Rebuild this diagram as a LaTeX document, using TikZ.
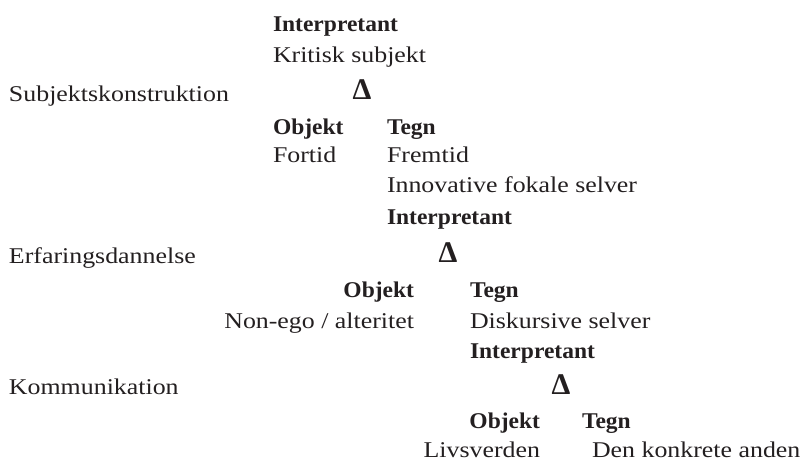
\documentclass[tikz,border=0pt]{standalone}
\usepackage{fontspec}
\setmainfont{Liberation Serif}
\newfontfamily\regfont[FakeStretch=1.15]{Liberation Serif}
\newfontfamily\hdfont[FakeStretch=1.045]{Liberation Serif Bold}
\definecolor{ink}{HTML}{231F20}
\tikzset{
  lbl/.style={inner sep=0pt, outer sep=0pt, text=ink, font=\regfont\fontsize{22.5}{26}\selectfont},
  hd/.style={lbl, font=\hdfont\fontsize{22.5}{26}\selectfont},
  tri/.style={inner sep=0pt, outer sep=0pt, text=ink, font=\fontsize{30}{34}\selectfont\bfseries, anchor=base}
}
\begin{document}
\begin{tikzpicture}[x=1pt, y=-1pt]
\useasboundingbox (0,0) rectangle (802,462);
% level 1
\node[hd, anchor=base west] (i1) at (273,32) {Interpretant};
\node[lbl, anchor=base west] (k1) at (273,63) {Kritisk subjekt};
\node[tri] (d1) at (362,100) {Δ};
\node[lbl, anchor=base west] (s1) at (9,102) {Subjektskonstruktion};
\node[hd, anchor=base west] (o1) at (273,135) {Objekt};
\node[hd, anchor=base west] (t1) at (387,135) {Tegn};
\node[lbl, anchor=base west] (f1) at (273,163) {Fortid};
\node[lbl, anchor=base west] (f2) at (387,163) {Fremtid};
\node[lbl, anchor=base west] (n1) at (387,193) {Innovative fokale selver};
% level 2
\node[hd, anchor=base west] (i2) at (387,225) {Interpretant};
\node[tri] (d2) at (448,262) {Δ};
\node[lbl, anchor=base west] (s2) at (9,263) {Erfaringsdannelse};
\node[hd, anchor=base east] (o2) at (414,297) {Objekt};
\node[hd, anchor=base west] (t2) at (470,297) {Tegn};
\node[lbl, anchor=base east] (n2) at (414,328) {Non-ego / alteritet};
\node[lbl, anchor=base west] (ds) at (470,328) {Diskursive selver};
% level 3
\node[hd, anchor=base west] (i3) at (470,358) {Interpretant};
\node[tri] (d3) at (561,394) {Δ};
\node[lbl, anchor=base west] (s3) at (9,394) {Kommunikation};
\node[hd, anchor=base east] (o3) at (540,428) {Objekt};
\node[hd, anchor=base west] (t3) at (582,428) {Tegn};
\node[lbl, anchor=base east] (lv) at (540,457) {Livsverden};
\node[lbl, anchor=base west] (dk) at (592,457) {Den konkrete anden};
\end{tikzpicture}
\end{document}
